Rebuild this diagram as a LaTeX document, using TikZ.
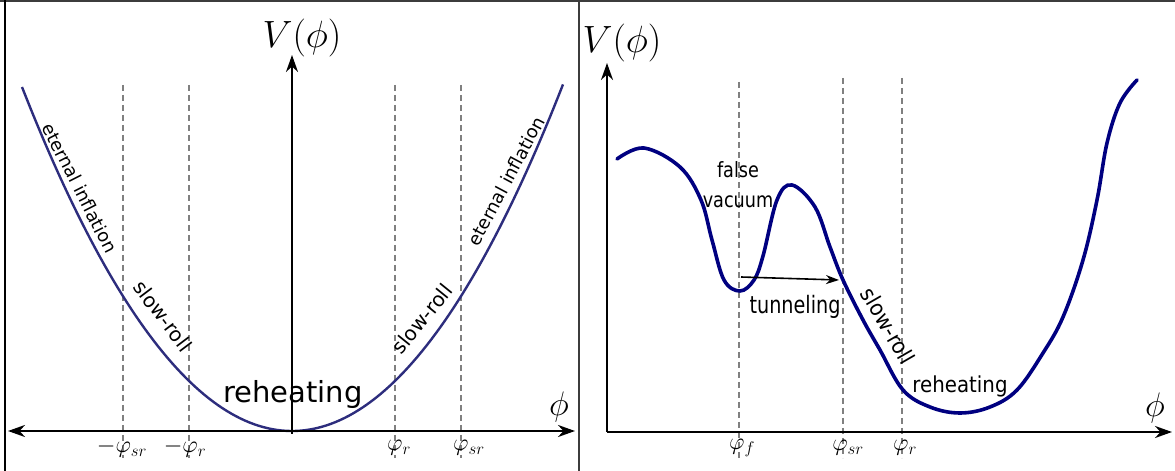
\RequirePackage{fix-cm}
\documentclass[tikz,border=0pt]{standalone}
\usepackage{fontspec}
\usepackage{graphicx}
\usetikzlibrary{arrows.meta}
\newfontfamily\lblfont{DejaVu Sans}
\definecolor{curveL}{RGB}{45,45,125}
\definecolor{curveR}{RGB}{0,0,128}
\definecolor{dashgray}{RGB}{128,128,128}
\definecolor{framegray}{RGB}{60,60,60}
\tikzset{
  axisline/.style={line width=2.4pt,black},
  axtip/.style={-{Stealth[length=17pt,width=12pt]}},
  guide/.style={dashgray,line width=2pt,dash pattern=on 6pt off 4pt},
  lbl/.style={inner sep=0pt,font=\lblfont},
  mathlbl/.style={inner sep=0pt},
}
\begin{document}
\begin{tikzpicture}[x=1pt,y=1pt]
\useasboundingbox (0,0) rectangle (1175,471);
% frame
\draw[framegray,line width=2pt] (0,470) -- (1175,470);
\draw[black,line width=2pt] (4.5,0) -- (4.5,471);
\draw[framegray,line width=1.2pt] (579,0) -- (579,471);

%%%%%%%% LEFT PANEL
\coordinate (lo) at (292,40);
\coordinate (lxl) at (8,40);
\coordinate (lxr) at (575,40);
\coordinate (lyt) at (292,416);
% guides
\foreach \gx/\nm in {123/g1,189/g2,395/g3,461/g4}{
  \coordinate (\nm t) at (\gx,386);
  \coordinate (\nm b) at (\gx,13);
  \draw[guide] (\nm t) -- (\nm b);
}
% curve
\draw[curveL,line width=2.4pt] plot[domain=22:563,samples=120] (\x,{40+0.4719*((\x-292)/10)^2});
% axes
\draw[axisline,{Stealth[length=17pt,width=12pt]}-{Stealth[length=17pt,width=12pt]}] (lxl) -- (lxr);
\draw[axisline,line width=2pt,axtip] (292,37) -- (lyt);
% labels
\node[mathlbl,font=\fontsize{38}{40}\selectfont] (lV) at (302,433) {$V(\phi)$};
\node[mathlbl,font=\fontsize{34}{36}\selectfont] (lphi) at (559,64) {$\phi$};
\node[mathlbl,font=\fontsize{24}{26}\selectfont] (t1) at (122,23) {$-\varphi_{sr}$};
\node[mathlbl,font=\fontsize{24}{26}\selectfont] (t2) at (185,23) {$-\varphi_{r}$};
\node[mathlbl,font=\fontsize{24}{26}\selectfont] (t3) at (399,23) {$\varphi_{r}$};
\node[mathlbl,font=\fontsize{24}{26}\selectfont] (t4) at (469,23) {$\varphi_{sr}$};
\node[lbl,font=\lblfont\fontsize{29}{31}\selectfont] (lreh) at (293,76) {reheating};
\node[lbl,font=\lblfont\fontsize{18}{20}\selectfont,rotate=-63] (lei1) at (80,283) {eternal inflation};
\node[lbl,font=\lblfont\fontsize{18}{20}\selectfont,rotate=62] (lei2) at (506,290) {eternal inflation};
\node[lbl,font=\lblfont\fontsize{20}{22}\selectfont,rotate=-53] (lsr1) at (163,155) {slow-roll};
\node[lbl,font=\lblfont\fontsize{20}{22}\selectfont,rotate=51] (lsr2) at (422,152) {slow-roll};

%%%%%%%% RIGHT PANEL
\coordinate (ro) at (607,39);
\coordinate (rxr) at (1172,39);
\coordinate (ryt) at (607,408);
\foreach \gx/\gt/\nm in {739/389/h1,842.5/393/h2,902/393/h3}{
  \coordinate (\nm t) at (\gx,\gt);
  \coordinate (\nm b) at (\gx,13);
  \draw[guide] (\nm t) -- (\nm b);
}
\draw[curveR,line width=3.6pt,line cap=round] plot[smooth,tension=0.6] coordinates {
 (617,312) (644,323) (680,304) (701,271) (712,231) (724,191) (740,180) (754,191)
 (763,215) (777,271) (792,286) (815,264) (830,224) (843,191) (863,151) (880,121)
 (903,81) (930,64) (960,58) (990,64) (1017,81) (1043,118) (1063,154) (1083,211)
 (1097,271) (1107,328) (1120,368) (1137,391)};
\draw[axisline,axtip] (ro) -- (rxr);
\draw[axisline,line width=2pt,axtip] (ro) -- (ryt);
\node[mathlbl,font=\fontsize{38}{40}\selectfont] (rV) at (622,428) {$V(\phi)$};
\node[mathlbl,font=\fontsize{34}{36}\selectfont] (rphi) at (1155,63) {$\phi$};
\node[mathlbl,font=\fontsize{24}{26}\selectfont] (s1) at (742,23) {$\varphi_{f}$};
\node[mathlbl,font=\fontsize{24}{26}\selectfont] (s2) at (848,23) {$\varphi_{sr}$};
\node[mathlbl,font=\fontsize{24}{26}\selectfont] (s3) at (905,23) {$\varphi_{r}$};
% tunneling arrow
\coordinate (tunA) at (741,194);
\coordinate (tunB) at (839,191);
\draw[black,line width=1.6pt,-{Stealth[length=13pt,width=9pt]}] (tunA) -- (tunB);
\node[lbl,font=\lblfont\fontsize{21}{30}\selectfont,align=center] (fv) at (738,286) {\scalebox{0.84}[1]{false}\\\scalebox{0.84}[1]{vacuum}};
\node[lbl,font=\lblfont\fontsize{24}{26}\selectfont] (tun) at (795,164) {\scalebox{0.8}[1]{tunneling}};
\node[lbl,font=\lblfont\fontsize{22}{24}\selectfont,rotate=-60] (rsr) at (888,145) {\scalebox{0.92}[1]{slow-roll}};
\node[lbl,font=\lblfont\fontsize{22}{24}\selectfont] (rreh) at (960,85) {\scalebox{0.9}[1]{reheating}};
\end{tikzpicture}
\end{document}
